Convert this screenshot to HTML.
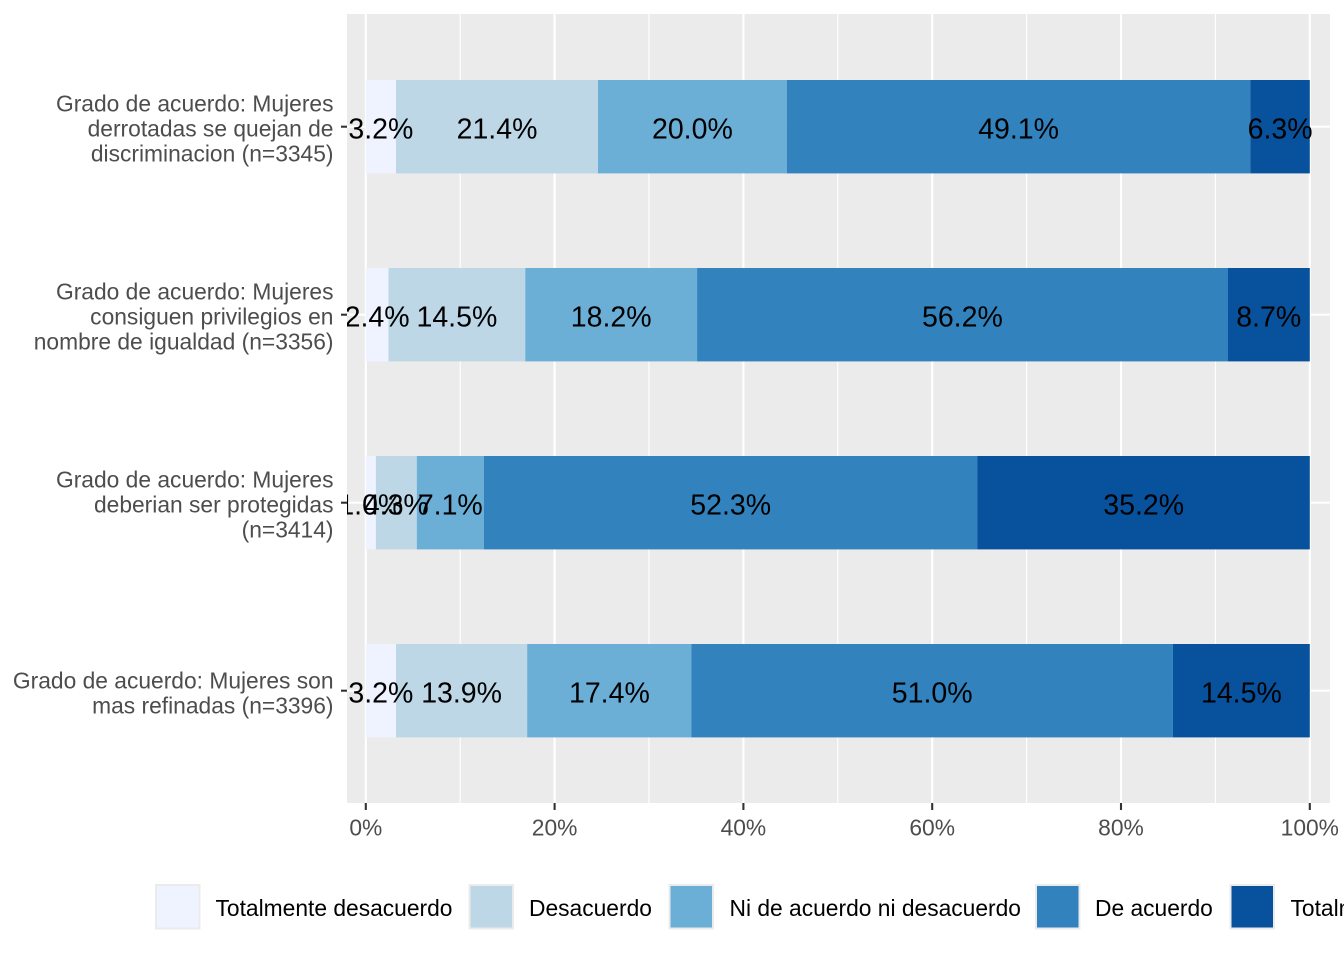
<!DOCTYPE html>
<html><head><meta charset="utf-8"><style>
html,body{margin:0;padding:0;background:#fff;}
svg{display:block;}
text{font-family:"Liberation Sans",Arial,sans-serif;}
</style></head><body>
<svg width="1344" height="960" viewBox="0 0 1344 960" xmlns="http://www.w3.org/2000/svg">
<defs><clipPath id="pc"><rect x="347" y="14" width="983" height="789"/></clipPath></defs>
<rect x="0" y="0" width="1344" height="960" fill="#fff"/>
<!-- panel -->
<rect x="347" y="14" width="983" height="789" fill="#EBEBEB"/>
<g stroke="#fff" stroke-width="1.1">
<line x1="460.2" y1="14" x2="460.2" y2="803"/>
<line x1="649" y1="14" x2="649" y2="803"/>
<line x1="837.8" y1="14" x2="837.8" y2="803"/>
<line x1="1026.6" y1="14" x2="1026.6" y2="803"/>
<line x1="1215.4" y1="14" x2="1215.4" y2="803"/>
</g>
<g stroke="#fff" stroke-width="2.1">
<line x1="365.8" y1="14" x2="365.8" y2="803"/>
<line x1="554.6" y1="14" x2="554.6" y2="803"/>
<line x1="743.4" y1="14" x2="743.4" y2="803"/>
<line x1="932.2" y1="14" x2="932.2" y2="803"/>
<line x1="1121" y1="14" x2="1121" y2="803"/>
<line x1="1309.8" y1="14" x2="1309.8" y2="803"/>
<line x1="347" y1="126.7" x2="1330" y2="126.7"/>
<line x1="347" y1="314.7" x2="1330" y2="314.7"/>
<line x1="347" y1="502.7" x2="1330" y2="502.7"/>
<line x1="347" y1="690.7" x2="1330" y2="690.7"/>
</g>
<g clip-path="url(#pc)">
<!-- bar 1 -->
<rect x="365.8" y="80" width="30.2" height="93.4" fill="#EFF3FF"/>
<rect x="396.0" y="80" width="202.0" height="93.4" fill="#BDD7E7"/>
<rect x="598.0" y="80" width="188.8" height="93.4" fill="#6BAED6"/>
<rect x="786.8" y="80" width="463.5" height="93.4" fill="#3182BD"/>
<rect x="1250.3" y="80" width="59.5" height="93.4" fill="#08519C"/>
<!-- bar 2 -->
<rect x="365.8" y="268" width="22.7" height="93.4" fill="#EFF3FF"/>
<rect x="388.5" y="268" width="136.8" height="93.4" fill="#BDD7E7"/>
<rect x="525.3" y="268" width="171.8" height="93.4" fill="#6BAED6"/>
<rect x="697.1" y="268" width="530.6" height="93.4" fill="#3182BD"/>
<rect x="1227.7" y="268" width="82.1" height="93.4" fill="#08519C"/>
<!-- bar 3 -->
<rect x="365.8" y="456" width="10.1" height="93.4" fill="#EFF3FF"/>
<rect x="375.9" y="456" width="40.9" height="93.4" fill="#BDD7E7"/>
<rect x="416.8" y="456" width="67.0" height="93.4" fill="#6BAED6"/>
<rect x="483.8" y="456" width="493.7" height="93.4" fill="#3182BD"/>
<rect x="977.5" y="456" width="332.3" height="93.4" fill="#08519C"/>
<!-- bar 4 -->
<rect x="365.8" y="644" width="30.2" height="93.4" fill="#EFF3FF"/>
<rect x="396.0" y="644" width="131.2" height="93.4" fill="#BDD7E7"/>
<rect x="527.2" y="644" width="164.3" height="93.4" fill="#6BAED6"/>
<rect x="691.5" y="644" width="481.4" height="93.4" fill="#3182BD"/>
<rect x="1172.9" y="644" width="136.9" height="93.4" fill="#08519C"/>
<!-- labels -->
<g font-size="28.5" fill="#000" text-anchor="middle">
<text x="380.9" y="138.4">3.2%</text>
<text x="497.0" y="138.4">21.4%</text>
<text x="692.4" y="138.4">20.0%</text>
<text x="1018.6" y="138.4">49.1%</text>
<text x="1280.1" y="138.4">6.3%</text>
<text x="377.1" y="326.4">2.4%</text>
<text x="456.9" y="326.4">14.5%</text>
<text x="611.2" y="326.4">18.2%</text>
<text x="962.4" y="326.4">56.2%</text>
<text x="1268.7" y="326.4">8.7%</text>
<text x="370.8" y="514.4">1.0%</text>
<text x="396.3" y="514.4">4.3%</text>
<text x="450.3" y="514.4">7.1%</text>
<text x="730.7" y="514.4">52.3%</text>
<text x="1143.7" y="514.4">35.2%</text>
<text x="380.9" y="702.4">3.2%</text>
<text x="461.6" y="702.4">13.9%</text>
<text x="609.4" y="702.4">17.4%</text>
<text x="932.2" y="702.4">51.0%</text>
<text x="1241.4" y="702.4">14.5%</text>
</g>
</g>
<!-- axis ticks -->
<g stroke="#333" stroke-width="2.1">
<line x1="341" y1="126.7" x2="347" y2="126.7"/>
<line x1="341" y1="314.7" x2="347" y2="314.7"/>
<line x1="341" y1="502.7" x2="347" y2="502.7"/>
<line x1="341" y1="690.7" x2="347" y2="690.7"/>
<line x1="365.8" y1="803" x2="365.8" y2="810"/>
<line x1="554.6" y1="803" x2="554.6" y2="810"/>
<line x1="743.4" y1="803" x2="743.4" y2="810"/>
<line x1="932.2" y1="803" x2="932.2" y2="810"/>
<line x1="1121" y1="803" x2="1121" y2="810"/>
<line x1="1309.8" y1="803" x2="1309.8" y2="810"/>
</g>
<!-- y labels -->
<g font-size="22.8" fill="#4D4D4D" text-anchor="end">
<text x="333.5" y="111.7">Grado de acuerdo: Mujeres</text>
<text x="333.5" y="136.7">derrotadas se quejan de</text>
<text x="333.5" y="161.7">discriminacion (n=3345)</text>
<text x="333.5" y="299.7">Grado de acuerdo: Mujeres</text>
<text x="333.5" y="324.7">consiguen privilegios en</text>
<text x="333.5" y="349.7">nombre de igualdad (n=3356)</text>
<text x="333.5" y="487.7">Grado de acuerdo: Mujeres</text>
<text x="333.5" y="512.7">deberian ser protegidas</text>
<text x="333.5" y="537.7">(n=3414)</text>
<text x="333.5" y="688.4">Grado de acuerdo: Mujeres son</text>
<text x="333.5" y="713.4">mas refinadas (n=3396)</text>
</g>
<!-- x labels -->
<g font-size="22.8" fill="#4D4D4D" text-anchor="middle">
<text x="365.8" y="835.5">0%</text>
<text x="554.6" y="835.5">20%</text>
<text x="743.4" y="835.5">40%</text>
<text x="932.2" y="835.5">60%</text>
<text x="1121" y="835.5">80%</text>
<text x="1309.8" y="835.5">100%</text>
</g>
<!-- legend -->
<g>
<rect x="155" y="884" width="45.5" height="45.5" fill="#EBEBEB"/>
<rect x="157" y="886" width="41.5" height="41.5" fill="#EFF3FF"/>
<rect x="468.5" y="884" width="45.5" height="45.5" fill="#EBEBEB"/>
<rect x="470.5" y="886" width="41.5" height="41.5" fill="#BDD7E7"/>
<rect x="668.5" y="884" width="45.5" height="45.5" fill="#EBEBEB"/>
<rect x="670.5" y="886" width="41.5" height="41.5" fill="#6BAED6"/>
<rect x="1035" y="884" width="45.5" height="45.5" fill="#EBEBEB"/>
<rect x="1037" y="886" width="41.5" height="41.5" fill="#3182BD"/>
<rect x="1229.5" y="884" width="45.5" height="45.5" fill="#EBEBEB"/>
<rect x="1231.5" y="886" width="41.5" height="41.5" fill="#08519C"/>
</g>
<g font-size="22.8" fill="#000">
<text x="215.5" y="915.8">Totalmente desacuerdo</text>
<text x="529" y="915.8">Desacuerdo</text>
<text x="729.5" y="915.8">Ni de acuerdo ni desacuerdo</text>
<text x="1095" y="915.8">De acuerdo</text>
<text x="1290.5" y="915.8">Totalmente de acuerdo</text>
</g>
</svg>
</body></html>
